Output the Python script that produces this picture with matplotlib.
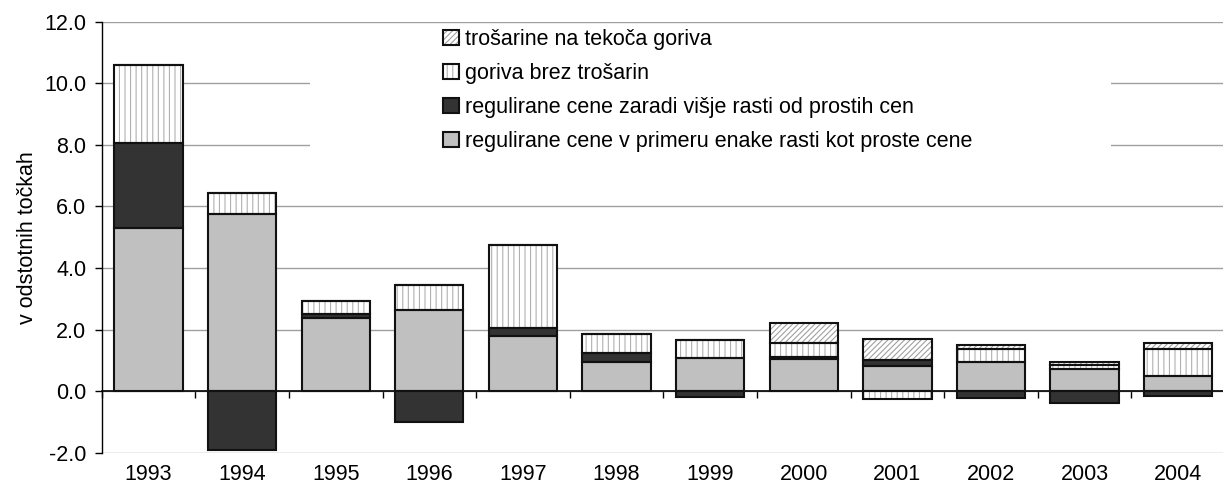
import matplotlib
matplotlib.use('Agg')
import matplotlib.pyplot as plt
import numpy as np
from matplotlib.patches import Rectangle

plt.rcParams['font.family'] = ['Liberation Sans', 'DejaVu Sans']
plt.rcParams['hatch.linewidth'] = 0.8

# podatki (odčitani s slike)
years = ['1993', '1994', '1995', '1996', '1997', '1998',
         '1999', '2000', '2001', '2002', '2003', '2004']
reg_enake = [5.30, 5.76, 2.38, 2.64, 1.80, 0.95, 1.07, 1.04, 0.83, 0.96, 0.71, 0.51]
reg_visje = [2.75, -1.90, 0.14, -0.98, 0.27, 0.28, -0.19, 0.08, 0.19, -0.20, -0.39, -0.14]
goriva_brez = [2.55, 0.69, 0.41, 0.82, 2.67, 0.63, 0.61, 0.44, -0.26, 0.41, 0.14, 0.87]
trosarine = [0, 0, 0, 0, 0, 0, 0, 0.65, 0.67, 0.14, 0.11, 0.18]

labels = ['regulirane cene v primeru enake rasti kot proste cene',
          'regulirane cene zaradi višje rasti od prostih cen',
          'goriva brez trošarin',
          'trošarine na tekoča goriva']

# stil posameznih serij: barva polnila, vzorec, barva vzorca
styles = [('#c0c0c0', None, '#c0c0c0'),
          ('#333333', None, '#333333'),
          ('white', '|||', '#b0b0b0'),
          ('white', '//////', '#a0a0a0')]

fs = 15.5

fig = plt.figure(figsize=(12.23, 4.93), dpi=100)
ax = fig.add_axes([101.7 / 1223, 40 / 493, 1123.3 / 1223, 431.5 / 493])

x = np.arange(len(years))
width = 0.73
pos_bottom = np.zeros(len(years))
neg_bottom = np.zeros(len(years))
handles = []

for series, (fc, hatch, hc) in zip([reg_enake, reg_visje, goriva_brez, trosarine], styles):
    vals = np.array(series, dtype=float)
    bottom = np.where(vals >= 0, pos_bottom, neg_bottom)
    fill = ax.bar(x, vals, width, bottom=bottom, color=fc, edgecolor=hc,
                  hatch=hatch, linewidth=0, zorder=2)
    edge = ax.bar(x, vals, width, bottom=bottom, fill=False, edgecolor='#111111',
                  linewidth=1.5, zorder=3)
    handles.append((fill.patches[0], edge.patches[0]))
    pos_bottom = pos_bottom + np.where(vals >= 0, vals, 0)
    neg_bottom = neg_bottom + np.where(vals < 0, vals, 0)

ax.set_xlim(-0.5, 11.5)
ax.set_ylim(-2, 12)

yt = np.arange(-2, 12.1, 2)
ax.set_yticks(yt)
ax.set_yticklabels([f'{v:.1f}' for v in yt], fontsize=fs)
ax.tick_params(axis='y', length=5, width=1, pad=6)
ax.set_axisbelow(True)
ax.yaxis.grid(True, color='#a0a0a0', linewidth=1.0)

for s in ['top', 'right']:
    ax.spines[s].set_visible(False)
ax.spines['left'].set_linewidth(1.0)
ax.spines['bottom'].set_position(('data', 0))
ax.spines['bottom'].set_linewidth(1.2)
ax.set_xticks(np.arange(-0.5, 12, 1))
ax.set_xticklabels([])
ax.tick_params(axis='x', length=5, width=1, direction='out')

sec = ax.secondary_xaxis(0.0)
sec.set_xticks(x, years, fontsize=fs)
sec.tick_params(length=0, pad=8)
sec.spines['bottom'].set_visible(False)

ax.set_ylabel('v odstotnih točkah', fontsize=fs)
ax.yaxis.set_label_coords(-0.057, 0.5)

# belo ozadje legende
ax.add_patch(Rectangle((0.1854, 9.0 / 14), 0.7131, 4.9 / 14, transform=ax.transAxes,
                       facecolor='white', edgecolor='none', zorder=1))

ax.legend(handles[::-1], labels[::-1], loc='upper left',
          bbox_to_anchor=(443 / 1223, 1 - 29 / 493), bbox_transform=fig.transFigure,
          frameon=False, fontsize=fs, borderpad=0, borderaxespad=0,
          handlelength=0.72, handleheight=0.72, handletextpad=0.28, labelspacing=0.6)

fig.savefig('out.png', dpi=100)
